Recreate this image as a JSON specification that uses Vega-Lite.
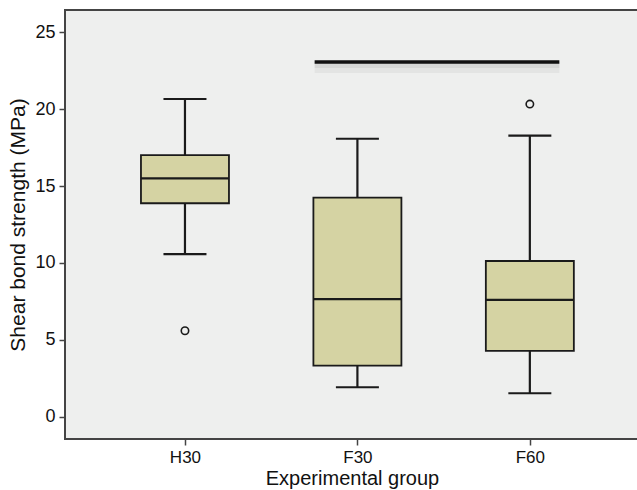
{
  "$schema": "https://vega.github.io/schema/vega-lite/v6.json",
  "autosize": "none",
  "width": 574,
  "height": 429,
  "padding": {"left": 65, "top": 10, "right": 0, "bottom": 51},
  "background": "white",
  "config": {
    "view": {"stroke": "#444444", "strokeWidth": 2, "fill": "#eeefee"},
    "font": "Liberation Sans",
    "axis": {"grid": false, "domain": false, "tickColor": "#444444", "tickWidth": 1.5, "labelColor": "#111111", "titleColor": "#111111", "titleFontWeight": "normal", "labelFont": "Liberation Sans", "titleFont": "Liberation Sans"}
  },
  "datasets": {
    "boxes": [
      {"group": "H30", "pos": 1, "lower": 10.58, "q1": 13.88, "median": 15.5, "q3": 17.0, "upper": 20.65},
      {"group": "F30", "pos": 2, "lower": 1.93, "q1": 3.33, "median": 7.66, "q3": 14.24, "upper": 18.07},
      {"group": "F60", "pos": 3, "lower": 1.54, "q1": 4.29, "median": 7.6, "q3": 10.13, "upper": 18.27}
    ],
    "outliers": [
      {"group": "H30", "pos": 1, "value": 5.6},
      {"group": "F60", "pos": 3, "value": 20.32}
    ],
    "sig": [
      {"from": 1.752, "to": 3.171, "value": 23.05}
    ]
  },
  "layer": [
    {
      "data": {"name": "sig"},
      "mark": {"type": "rule", "color": "#8a8a8a", "strokeWidth": 12, "opacity": 0.1, "yOffset": 5},
      "encoding": {
        "x": {"field": "from", "type": "quantitative", "scale": {"domain": [0.3333, 3.604], "nice": false, "zero": false},
          "axis": {"values": [1, 2, 3], "labelExpr": "['', 'H30', 'F30', 'F60'][datum.value]", "tickSize": 6, "labelFontSize": 17, "labelPadding": 4, "title": "Experimental group", "titleFontSize": 20, "titlePadding": 3}},
        "x2": {"field": "to"},
        "y": {"field": "value", "type": "quantitative", "scale": {"domain": [-1.43, 26.43], "nice": false, "zero": false},
          "axis": {"values": [0, 5, 10, 15, 20, 25], "tickSize": 6, "labelFontSize": 18, "labelPadding": 4, "title": "Shear bond strength (MPa)", "titleFontSize": 21, "titlePadding": 6}}
      }
    },
    {
      "data": {"name": "sig"},
      "mark": {"type": "rule", "color": "#8a8a8a", "strokeWidth": 6, "opacity": 0.15, "yOffset": 3},
      "encoding": {
        "x": {"field": "from", "type": "quantitative"},
        "x2": {"field": "to"},
        "y": {"field": "value", "type": "quantitative"}
      }
    },
    {
      "data": {"name": "sig"},
      "mark": {"type": "rule", "color": "#111111", "strokeWidth": 3.5},
      "encoding": {
        "x": {"field": "from", "type": "quantitative"},
        "x2": {"field": "to"},
        "y": {"field": "value", "type": "quantitative"}
      }
    },
    {
      "data": {"name": "boxes"},
      "mark": {"type": "rule", "color": "#1a1a1a", "strokeWidth": 2.2},
      "encoding": {
        "x": {"field": "pos", "type": "quantitative"},
        "y": {"field": "lower", "type": "quantitative"},
        "y2": {"field": "upper"}
      }
    },
    {
      "data": {"name": "boxes"},
      "mark": {"type": "tick", "orient": "horizontal", "color": "#1a1a1a", "size": 43, "thickness": 2.2, "opacity": 1},
      "encoding": {
        "x": {"field": "pos", "type": "quantitative"},
        "y": {"field": "lower", "type": "quantitative"}
      }
    },
    {
      "data": {"name": "boxes"},
      "mark": {"type": "tick", "orient": "horizontal", "color": "#1a1a1a", "size": 43, "thickness": 2.2, "opacity": 1},
      "encoding": {
        "x": {"field": "pos", "type": "quantitative"},
        "y": {"field": "upper", "type": "quantitative"}
      }
    },
    {
      "data": {"name": "boxes"},
      "mark": {"type": "bar", "width": 88, "fill": "#d5d3a3", "stroke": "#1a1a1a", "strokeWidth": 1.8},
      "encoding": {
        "x": {"field": "pos", "type": "quantitative"},
        "y": {"field": "q1", "type": "quantitative"},
        "y2": {"field": "q3"}
      }
    },
    {
      "data": {"name": "boxes"},
      "mark": {"type": "tick", "orient": "horizontal", "color": "#1a1a1a", "size": 88, "thickness": 2.2, "opacity": 1},
      "encoding": {
        "x": {"field": "pos", "type": "quantitative"},
        "y": {"field": "median", "type": "quantitative"}
      }
    },
    {
      "data": {"name": "outliers"},
      "mark": {"type": "point", "shape": "circle", "filled": false, "size": 55, "stroke": "#1a1a1a", "strokeWidth": 1.6, "opacity": 1},
      "encoding": {
        "x": {"field": "pos", "type": "quantitative"},
        "y": {"field": "value", "type": "quantitative"}
      }
    }
  ]
}
